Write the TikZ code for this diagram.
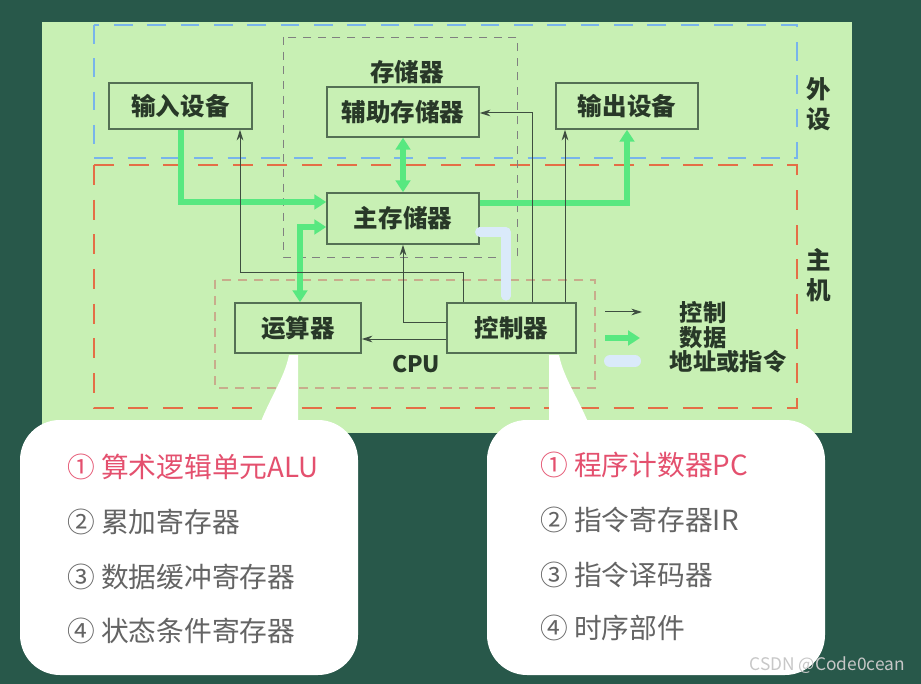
\documentclass[tikz,border=0pt]{standalone}
\usepackage{fontspec}
\newfontfamily\cjk{Noto Sans CJK SC}
\usetikzlibrary{arrows.meta}
\definecolor{board}{RGB}{40,88,74}
\definecolor{panel}{RGB}{200,240,180}
\definecolor{boxline}{RGB}{84,112,84}
\definecolor{boxtext}{RGB}{40,56,40}
\definecolor{datagreen}{RGB}{88,232,128}
\definecolor{addrblue}{RGB}{218,234,250}
\definecolor{ctrl}{RGB}{62,78,64}
\definecolor{wsblue}{RGB}{120,180,235}
\definecolor{hostred}{RGB}{228,110,70}
\definecolor{cpudash}{RGB}{200,172,140}
\definecolor{hlred}{RGB}{228,80,110}
\definecolor{itemgray}{RGB}{100,100,100}
\tikzset{
  unit/.style={draw=boxline, line width=1.1pt, fill=panel, font=\cjk\fontsize{18.4}{21}\selectfont\bfseries, text=boxtext, inner sep=0pt},
  lab/.style={font=\cjk\fontsize{18.4}{21}\selectfont\bfseries, text=boxtext, inner sep=0pt},
  leg/.style={font=\cjk\fontsize{17.5}{20}\selectfont\bfseries, text=boxtext, inner sep=0pt},
  ctl/.style={draw=ctrl, line width=0.75pt, -{Stealth[length=8pt,width=5pt]}},
  dat/.style={draw=datagreen, line width=4.5pt},
  datend/.style={-{Triangle[length=9pt,width=11pt]}},
  datboth/.style={{Triangle[length=9pt,width=11pt]}-{Triangle[length=9pt,width=11pt]}},
  adr/.style={draw=addrblue, line width=7pt, line cap=round, line join=round},
  item/.style={font=\cjk\fontsize{20.8}{24}\selectfont, text=itemgray, anchor=west, inner sep=0pt},
}
\begin{document}
\begin{tikzpicture}[x=0.75pt, y=-0.75pt]
\useasboundingbox (0,0) rectangle (921,684);
\fill[board] (0,0) rectangle (921,684);
\fill[panel] (42,22) rectangle (852,433);

% group frames
\draw[wsblue, line width=1.6pt, dash pattern=on 14pt off 11pt] (94,25) rectangle (797,158);
\draw[hostred, line width=2pt, dash pattern=on 15pt off 11pt] (94,165) rectangle (797,408);
\draw[gray, line width=0.7pt, dash pattern=on 6pt off 5pt] (283,37) rectangle (517,257);
\draw[cpudash, line width=0.8pt, dash pattern=on 7pt off 5pt] (215,280) rectangle (595,388);

% nodes
\node[unit, minimum width=107.25pt, minimum height=34.5pt] (in) at (180.5,106) {输入设备};
\node[unit, minimum width=114pt, minimum height=37.5pt] (aux) at (403,112) {辅助存储器};
\node[unit, minimum width=114pt, minimum height=38.25pt] (mem) at (403,218.5) {主存储器};
\node[unit, minimum width=106.5pt, minimum height=34.5pt] (out) at (627,106) {输出设备};
\node[unit, minimum width=94.5pt, minimum height=37.5pt] (alu) at (298,328) {运算器};
\node[unit, minimum width=96.75pt, minimum height=37.5pt] (cu) at (511.5,328) {控制器};

\node[lab] (storlab) at (407,72) {存储器};
\node[font=\cjk\fontsize{17}{19}\selectfont\bfseries, text=boxtext, inner sep=0pt] (cpulab) at (416,364) {CPU};
\node[lab] (wai) at (819,89) {外};
\node[lab] (she) at (819,119) {设};
\node[lab] (zhu) at (819,260) {主};
\node[lab] (ji) at (819,290) {机};

% address / instruction path
\draw[adr] (mem.east |- 0,232) -- (506,232) -- (506,296);

% data paths
\draw[dat, datend] (in.south) -- (180.5,202) -- (mem.west |- 0,202);
\draw[dat, datend] (mem.east |- 0,203) -- (627,203) -- (out.south);
\draw[dat, datboth] (aux.south) -- (mem.north);
\draw[dat, datboth] (mem.west |- 0,227) -- (300,227) -- (300,0 |- alu.north);

% control paths
\draw[ctl] (463,0 |- cu.north) -- (463,273) -- (240,273) -- (240,0 |- in.south);
\draw[ctl] (cu.west |- 0,323) -- (403,323) -- (mem.south);
\draw[ctl] (cu.west |- 0,339) -- (alu.east |- 0,339);
\draw[ctl] (532,0 |- cu.north) -- (532,113) -- (aux.east |- 0,113);
\draw[ctl] (565,0 |- cu.north) -- (565,0 |- out.south);

% legend
\coordinate (lc1) at (605,312); \coordinate (lc2) at (642,312);
\coordinate (ld1) at (605,338); \coordinate (ld2) at (640,338);
\coordinate (la1) at (610,361); \coordinate (la2) at (635,361);
\draw[ctl] (lc1) -- (lc2);
\draw[dat, datend] (ld1) -- (ld2);
\draw[adr, line width=9pt] (la1) -- (la2);
\node[leg] (lgc) at (703,313) {控制};
\node[leg] (lgd) at (703,338) {数据};
\node[leg] (lga) at (728,362) {地址或指令};

% callouts
\fill[white] (257,432) .. controls (268,400) and (284,380) .. (289,355) -- (298,355) -- (298,432) -- cycle;
\fill[white, rounded corners=30pt] (20,420) rectangle (358,675);
\fill[white] (549,355) -- (559,355) .. controls (564,380) and (580,400) .. (592,432) -- (549,432) -- cycle;
\fill[white, rounded corners=30pt] (487,420) rectangle (825,675);

\node[item, text=hlred] (a1) at (67,467) {① 算术逻辑单元ALU};
\node[item] (a2) at (67,522) {② 累加寄存器};
\node[item] (a3) at (67,577) {③ 数据缓冲寄存器};
\node[item] (a4) at (67,631) {④ 状态条件寄存器};

\node[item, text=hlred] (b1) at (540,465) {① 程序计数器PC};
\node[item] (b2) at (540,520) {② 指令寄存器IR};
\node[item] (b3) at (540,575) {③ 指令译码器};
\node[item] (b4) at (540,628) {④ 时序部件};

\node[font=\cjk\fontsize{13}{15}\selectfont, text=black!22, anchor=east, inner sep=0pt] (wm) at (905,665) {CSDN @Code0cean};
\end{tikzpicture}
\end{document}
